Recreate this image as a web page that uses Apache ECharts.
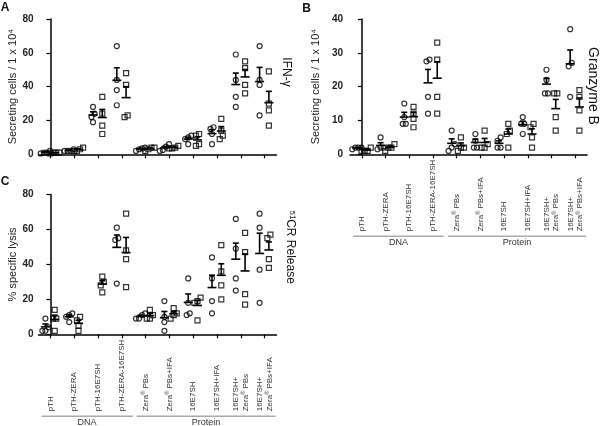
<!DOCTYPE html>
<html>
<head>
<meta charset="utf-8">
<script src="https://cdn.jsdelivr.net/npm/echarts@6/dist/echarts.min.js"></script>
<style>html,body{margin:0;padding:0;background:#fff;}#c{width:600px;height:426px;}</style>
</head>
<body>
<div id="c"></div>
<script>
// ---- data ----
const categories = ['pTH', 'pTH-ZERA', 'pTH-16E7SH', 'pTH-ZERA-16E7SH', 'Zera® PBs', 'Zera® PBs+IFA',
  '16E7SH', '16E7SH+IFA', '16E7SH+\nZera® PBs', '16E7SH+\nZera® PBs+IFA'];
const groupNames = ['DNA', 'Protein'];
const groupRanges = [[0, 3], [4, 9]];

const yTicksIFN = [0, 20, 40, 60, 80];
const yTicksGZB = [0, 10, 20, 30, 40];
const yTicksCR = [0, 20, 40, 60, 80];

// Panel A: IFN-gamma
const ifnCircles = [[1, 2, 1, 0.5], [2, 3, 2, 2], [28, 24, 22, 19], [64, 44, 38, 29], [3, 4, 2, 3.5],
  [6, 4.5, 2.5, 2], [10, 11, 6, 9], [16, 15, 12, 6], [59, 44, 34, 28], [64, 44, 41, 23]];
const ifnSquares = [[1, 1, 0.5, 1], [4, 2, 2, 3], [34, 24, 17, 12], [48, 41, 22, 23], [4, 4, 2, 3],
  [5, 3.5, 3.5, 4], [12, 11, 5, 6], [21, 14, 11, 9], [55, 51, 41, 36], [49, 30, 26, 17]];
// Panel B: Granzyme B
const gzbCircles = [[2, 2, 1.5, 2], [5, 2, 2, 1.5], [15, 11, 9, 9], [27.5, 28, 17, 12], [7, 3, 2, 1],
  [6, 4, 2, 2], [5, 4, 2, 2], [11, 9, 9, 6], [25, 22, 18, 18], [37, 27, 26, 17]];
const gzbSquares = [[2, 1, 1, 1], [3, 2, 2, 1], [14, 12, 10.5, 8], [33, 28, 17, 12], [5, 2, 2, 1],
  [7, 3, 2, 2], [9, 7, 6, 2], [9, 8, 5, 2], [18, 18, 11, 7], [19, 17, 13, 7]];
// Panel C: 51Cr release
const crCircles = [[9, 4, 2, 2], [12, 11, 10, 7], [], [61, 55, 54, 29], [12, 11, 9, 9],
  [19, 10, 7, 2], [32, 18, 12, 11], [44, 32, 19, 12], [66, 49, 32, 25], [69, 61, 37, 18]];
const crSquares = [[14, 9, 9, 2], [10, 8, 5, 2], [33, 30, 28, 24], [69, 48, 43, 27], [14, 11, 9, 9],
  [15, 12, 11, 9], [21, 19, 18, 8], [51, 36, 28, 20], [58, 47, 23, 17], [57, 55, 43, 38]];

// ---- layout / style ----
const FONT = 'Liberation Sans, Arial, sans-serif';
const panels = [
  { circles: ifnCircles, squares: ifnSquares, ticks: yTicksIFN, yName: 'Secreting cells / 1 x 10\u2074', nameGap: 17,
    grid: { left: 38.5, top: 19, width: 238, height: 135.3 }, labels: false },
  { circles: gzbCircles, squares: gzbSquares, ticks: yTicksGZB, yName: 'Secreting cells / 1 x 10\u2074', nameGap: 29,
    grid: { left: 350, top: 19, width: 237, height: 135.3 }, labels: true },
  { circles: crCircles, squares: crSquares, ticks: yTicksCR, yName: '% specific lysis', nameGap: 17,
    grid: { left: 38.5, top: 194.5, width: 238, height: 139.8 }, labels: true }
];
const OFF_C = -0.21, OFF_S = 0.18, STEP = 0.13;

function stats(v) {
  const n = v.length;
  const m = v.reduce((a, b) => a + b, 0) / n;
  const sd = Math.sqrt(v.reduce((a, b) => a + (b - m) * (b - m), 0) / (n - 1));
  return [m, sd / Math.sqrt(n)];
}
function spread(vals, center, thr) {
  const idx = vals.map((v, i) => i).sort((a, b) => vals[a] - vals[b]);
  const out = [];
  let cl = [];
  const flush = () => {
    cl.forEach((k, j) => out.push([center + (j - (cl.length - 1) / 2) * STEP, vals[k]]));
    cl = [];
  };
  idx.forEach((k) => {
    if (cl.length && vals[k] - vals[cl[cl.length - 1]] > thr) flush();
    cl.push(k);
  });
  flush();
  return out;
}

const grids = [], xAxes = [], yAxes = [], series = [];
const axisLineStyle = { color: '#000', width: 1.5 };
panels.forEach((p, pi) => {
  grids.push(Object.assign({ outerBoundsMode: 'none', containLabel: false }, p.grid));
  const ymin = p.ticks[0], ymax = p.ticks[p.ticks.length - 1];
  yAxes.push({
    type: 'value', gridIndex: pi, min: ymin, max: ymax, interval: p.ticks[1] - p.ticks[0],
    name: p.yName, nameLocation: 'middle', nameGap: p.nameGap,
    nameTextStyle: { fontSize: 11, color: '#222', fontFamily: FONT },
    axisLine: { show: true, lineStyle: axisLineStyle },
    axisTick: { show: true, length: 4, lineStyle: { color: '#000', width: 1.2 } },
    splitLine: { show: false },
    axisLabel: { fontSize: 10, fontWeight: 'bold', color: '#222', margin: pi === 1 ? 7 : 5, fontFamily: FONT }
  });
  xAxes.push({
    type: 'category', gridIndex: pi, data: categories, boundaryGap: true,
    axisLine: { show: true, lineStyle: axisLineStyle },
    axisTick: { show: true, alignWithLabel: true, length: 4, interval: 0, lineStyle: { color: '#000', width: 1.2 } },
    splitLine: { show: false },
    axisLabel: {
      show: p.labels, interval: 0, rotate: 90, margin: 77, align: 'left', verticalAlign: 'middle',
      fontSize: 8, color: '#333', fontFamily: FONT, lineHeight: 9.5,
      formatter: s => s.replace(/®/g, '{r|®}'),
      rich: { r: { fontSize: 5.5, verticalAlign: 'top', color: '#333', fontFamily: FONT } }
    }
  });
});
panels.forEach((p, pi) => {
  xAxes.push({ type: 'value', gridIndex: pi, min: -0.5, max: 9.5, show: false });
});

panels.forEach((p, pi) => {
  const ymax = p.ticks[p.ticks.length - 1];
  const thr = ymax * 0.025;
  [[p.circles, 'circle', OFF_C], [p.squares, 'rect', OFF_S]].forEach(([arr, sym, off]) => {
    const pts = [], bars = [];
    arr.forEach((vals, i) => {
      if (!vals || !vals.length) return;
      spread(vals, i + off, thr).forEach(d => pts.push(d));
      const [m, se] = stats(vals);
      bars.push([i + off, m, m + se]);
    });
    series.push({
      type: 'scatter', xAxisIndex: 3 + pi, yAxisIndex: pi, data: pts, symbol: sym,
      symbolSize: 5, silent: true, z: 3,
      itemStyle: { color: 'rgba(255,255,255,0)', borderColor: '#000', borderWidth: 1.2 }
    });
    series.push({
      type: 'custom', xAxisIndex: 3 + pi, yAxisIndex: pi, data: bars, silent: true, z: 4,
      renderItem: (params, api) => {
        const p0 = api.coord([api.value(0), api.value(1)]);
        const p1 = api.coord([api.value(0), api.value(2)]);
        const st = { stroke: '#000', lineWidth: 1.6 };
        return { type: 'group', children: [
          { type: 'line', shape: { x1: p0[0] - 4.5, y1: p0[1], x2: p0[0] + 4.5, y2: p0[1] }, style: st },
          { type: 'line', shape: { x1: p0[0], y1: p0[1], x2: p1[0], y2: p1[1] }, style: st },
          { type: 'line', shape: { x1: p1[0] - 3, y1: p1[1], x2: p1[0] + 3, y2: p1[1] }, style: st }
        ] };
      }
    });
  });
  if (p.labels) {
    series.push({
      type: 'custom', xAxisIndex: 3 + pi, yAxisIndex: pi, silent: true, clip: false,
      data: groupRanges.map((r, k) => [r[0], r[1], k]),
      renderItem: (params, api) => {
        const a = api.coord([api.value(0) - 0.5, 0]);
        const b = api.coord([api.value(1) + 0.5, 0]);
        const y = a[1] + 82;
        const x1 = a[0] + 3, x2 = b[0] - 1;
        return { type: 'group', children: [
          { type: 'line', shape: { x1: x1, y1: y, x2: x2, y2: y }, style: { stroke: '#aaa', lineWidth: 1.5 } },
          { type: 'text', x: (x1 + x2) / 2, y: y + 6.5,
            style: { text: groupNames[api.value(2)], fontSize: 9, fontFamily: FONT, fill: '#333',
              align: 'center', verticalAlign: 'middle' } }
        ] };
      }
    });
  }
});

const txt = (s, x, y, size, weight, rot) => ({
  type: 'text', x: x, y: y, rotation: rot || 0, silent: true,
  style: { text: s, fontSize: size, fontWeight: weight, fontFamily: FONT, fill: '#111',
    align: 'center', verticalAlign: 'middle' }
});

const chart = echarts.init(document.getElementById('c'), null, { renderer: 'canvas' });
chart.setOption({
  animation: false,
  backgroundColor: '#fff',
  textStyle: { fontFamily: FONT },
  grid: grids, xAxis: xAxes, yAxis: yAxes, series: series,
  graphic: [
    txt('A', 5, 8, 12, 'bold'),
    txt('B', 306.5, 8.5, 12, 'bold'),
    txt('C', 5, 182, 12, 'bold'),
    txt('IFN-\u03b3', 286.5, 72, 12, 'normal', -Math.PI / 2),
    txt('Granzyme B', 593, 86, 14, 'normal', -Math.PI / 2),
    txt('\u2075\u00b9CR Release', 290, 247, 12, 'normal', -Math.PI / 2)
  ]
});
</script>
</body>
</html>
